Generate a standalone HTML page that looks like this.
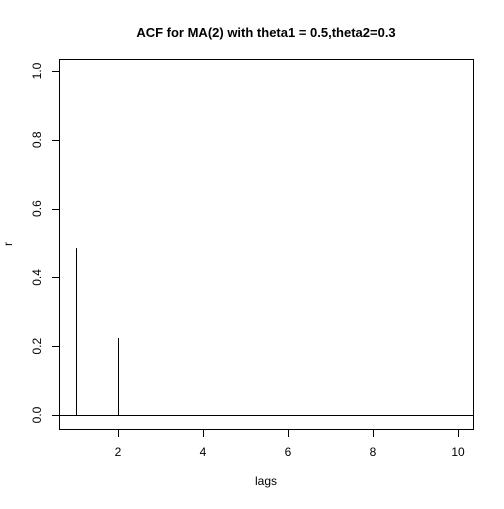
<!DOCTYPE html>
<html><head><style>body{margin:0;background:#fff}svg text{font-family:"Liberation Sans",Arial,sans-serif}</style></head>
<body>
<svg width="504" height="504">
<rect x="0" y="0" width="504" height="504" fill="#fff"/>
<text x="266" y="37" font-size="13" font-weight="bold" text-anchor="middle">ACF for MA(2) with theta1 = 0.5,theta2=0.3</text>
<text x="266" y="485" font-size="12" text-anchor="middle">lags</text>
<text x="12" y="244" font-size="12" text-anchor="middle" transform="rotate(-90 12 244)">r</text>
<rect x="59.5" y="59.5" width="414" height="370" fill="none" stroke="#000"/>
<g id="axes"></g>
<g id="marks"></g>
</svg>
<script>
const lags=[1,2,3,4,5,6,7,8,9,10];
const acfValues=[0.485,0.224,0,0,0,0,0,0,0,0];
const xTicks=[2,4,6,8,10];
const yTicks=[0,0.2,0.4,0.6,0.8,1.0];
const yTickLabels=["0.0","0.2","0.4","0.6","0.8","1.0"];
const NS="http://www.w3.org/2000/svg";
function xs(v){return 75.5+(v-1)*42.5;}
function ys(v){return 415-v*344;}
function mk(t,a,p){const e=document.createElementNS(NS,t);for(const k in a)e.setAttribute(k,a[k]);p.appendChild(e);return e;}
const ax=document.getElementById('axes'),mg=document.getElementById('marks');
xTicks.forEach(t=>{
 const l=mk('line',{x1:Math.round(xs(t))+.5,x2:Math.round(xs(t))+.5,y1:430,y2:437,stroke:'#000'},ax);
 
 
 const tx=mk('text',{x:xs(t),y:456,'font-size':12,'text-anchor':'middle'},ax);tx.textContent=t;
 
 
});
yTicks.forEach((t,i)=>{
 const y=Math.round(ys(t))+.5;
 const l=mk('line',{x1:52,x2:59,y1:y,y2:y,stroke:'#000'},ax);
 
 
 const tx=mk('text',{x:41,y:ys(t),'font-size':12,'text-anchor':'middle',transform:`rotate(-90 41 ${ys(t)})`},ax);tx.textContent=yTickLabels[i];
 
 
});
const z=Math.round(ys(0))+.5;
const zl=mk('line',{x1:60,x2:473,y1:z,y2:z,stroke:'#000'},mg);


lags.forEach((g,i)=>{
 if(acfValues[i]===0)return;
 const x=Math.round(xs(g))+.5;
 const l=mk('line',{x1:x,x2:x,y1:ys(0),y2:ys(acfValues[i]),stroke:'#000'},mg);
 
 
});
</script>
</body></html>
